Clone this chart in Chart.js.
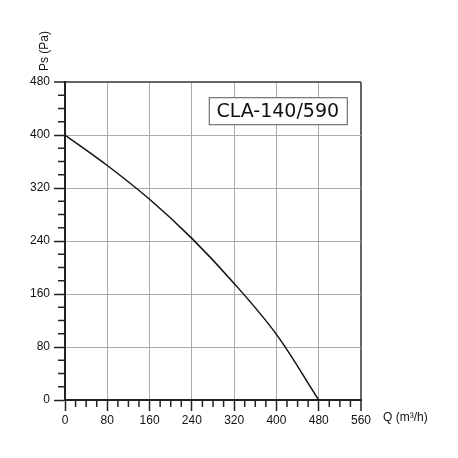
<!DOCTYPE html>
<html>
<head>
<meta charset="utf-8">
<script src="https://cdn.jsdelivr.net/npm/chart.js@4"></script>
<style>
  html, body { margin: 0; padding: 0; background: #fff; }
  canvas { display: block; }
</style>
</head>
<body>
<canvas id="myChart" width="458" height="458"></canvas>
<script>
// data
const flow = [0, 80, 160, 240, 320, 400, 480];
const pressure = [400, 354, 303, 244, 176, 99, 0];
const modelName = 'CLA-140/590';
const xTitle = 'Q (m\u00b3/h)';
const yTitle = 'Ps (Pa)';

const font = { family: 'Liberation Sans, Arial, sans-serif', size: 12 };
const isMajor = v => v % 80 === 0;

// minor ticks are shorter than the major ones, draw them here
const extras = {
    id: 'extras',
    afterDraw(chart) {
        const ctx = chart.ctx;
        const xs = chart.scales.x, ys = chart.scales.y;
        const area = chart.chartArea;
        ctx.save();
        ctx.strokeStyle = '#222';
        ctx.lineWidth = 1.5;
        xs.ticks.forEach(t => {
            if (isMajor(t.value)) return;
            const px = xs.getPixelForValue(t.value);
            ctx.beginPath();
            ctx.moveTo(px, area.bottom);
            ctx.lineTo(px, area.bottom + 7);
            ctx.stroke();
        });
        ys.ticks.forEach(t => {
            if (isMajor(t.value)) return;
            const py = ys.getPixelForValue(t.value);
            ctx.beginPath();
            ctx.moveTo(area.left, py);
            ctx.lineTo(area.left - 7, py);
            ctx.stroke();
        });

        // axis titles
        ctx.fillStyle = '#111';
        ctx.font = font.size + 'px ' + font.family;
        ctx.textBaseline = 'middle';
        ctx.textAlign = 'left';
        ctx.fillText(xTitle, area.right + 22, area.bottom + 18);
        ctx.save();
        ctx.translate(45, 51);
        ctx.rotate(-Math.PI / 2);
        ctx.textAlign = 'center';
        ctx.fillText(yTitle, 0, 0);
        ctx.restore();

        // model label box
        const bx = xs.getPixelForValue(272), by = ys.getPixelForValue(457);
        const bw = 138, bh = 27;
        ctx.fillStyle = '#fff';
        ctx.fillRect(bx, by, bw, bh);
        ctx.strokeStyle = '#555';
        ctx.lineWidth = 1;
        ctx.strokeRect(bx + 0.5, by + 0.5, bw, bh);
        ctx.fillStyle = '#111';
        ctx.font = '19px DejaVu Sans, sans-serif';
        ctx.textAlign = 'center';
        ctx.fillText(modelName, bx + bw / 2, by + bh / 2 + 1);
        ctx.restore();
    }
};

const data = {
    datasets: [{
        data: flow.map((q, i) => ({ x: q, y: pressure[i] })),
        borderColor: '#111',
        borderWidth: 1.5,
        pointRadius: 0,
        tension: 0.35,
        fill: false
    }]
};

const config = {
    type: 'line',
    data,
    options: {
        responsive: false,
        animation: false,
        devicePixelRatio: 1,
        layout: { padding: { top: 82, right: 97, left: 0, bottom: 0 } },
        plugins: { legend: { display: false }, tooltip: { enabled: false } },
        scales: {
            x: {
                type: 'linear',
                min: 0, max: 560,
                ticks: {
                    stepSize: 20,
                    autoSkip: false,
                    maxRotation: 0,
                    padding: 2,
                    color: '#111',
                    font,
                    callback: v => isMajor(v) ? v : ''
                },
                grid: {
                    color: c => c.tick.value === 560 ? '#666' : (isMajor(c.tick.value) ? '#aaa' : 'rgba(0,0,0,0)'),
                    lineWidth: c => c.tick.value === 560 ? 2 : 1,
                    tickColor: c => isMajor(c.tick.value) ? '#222' : 'rgba(0,0,0,0)',
                    tickLength: 11,
                    tickWidth: 1.5
                },
                border: { color: '#222', width: 2 },
                afterFit: s => { s.height = 58; }
            },
            y: {
                type: 'linear',
                min: 0, max: 480,
                ticks: {
                    stepSize: 20,
                    autoSkip: false,
                    padding: 4,
                    color: '#111',
                    font,
                    callback: v => isMajor(v) ? v : ''
                },
                grid: {
                    color: c => c.tick.value === 480 ? '#666' : (isMajor(c.tick.value) ? '#aaa' : 'rgba(0,0,0,0)'),
                    lineWidth: c => c.tick.value === 480 ? 2 : 1,
                    tickColor: c => isMajor(c.tick.value) ? '#222' : 'rgba(0,0,0,0)',
                    tickLength: 11,
                    tickWidth: 1.5
                },
                border: { color: '#222', width: 2 },
                afterFit: s => { s.width = 65; }
            }
        }
    },
    plugins: [extras]
};

var myChart = new Chart(
    document.getElementById('myChart'),
    config
);
</script>
</body>
</html>
